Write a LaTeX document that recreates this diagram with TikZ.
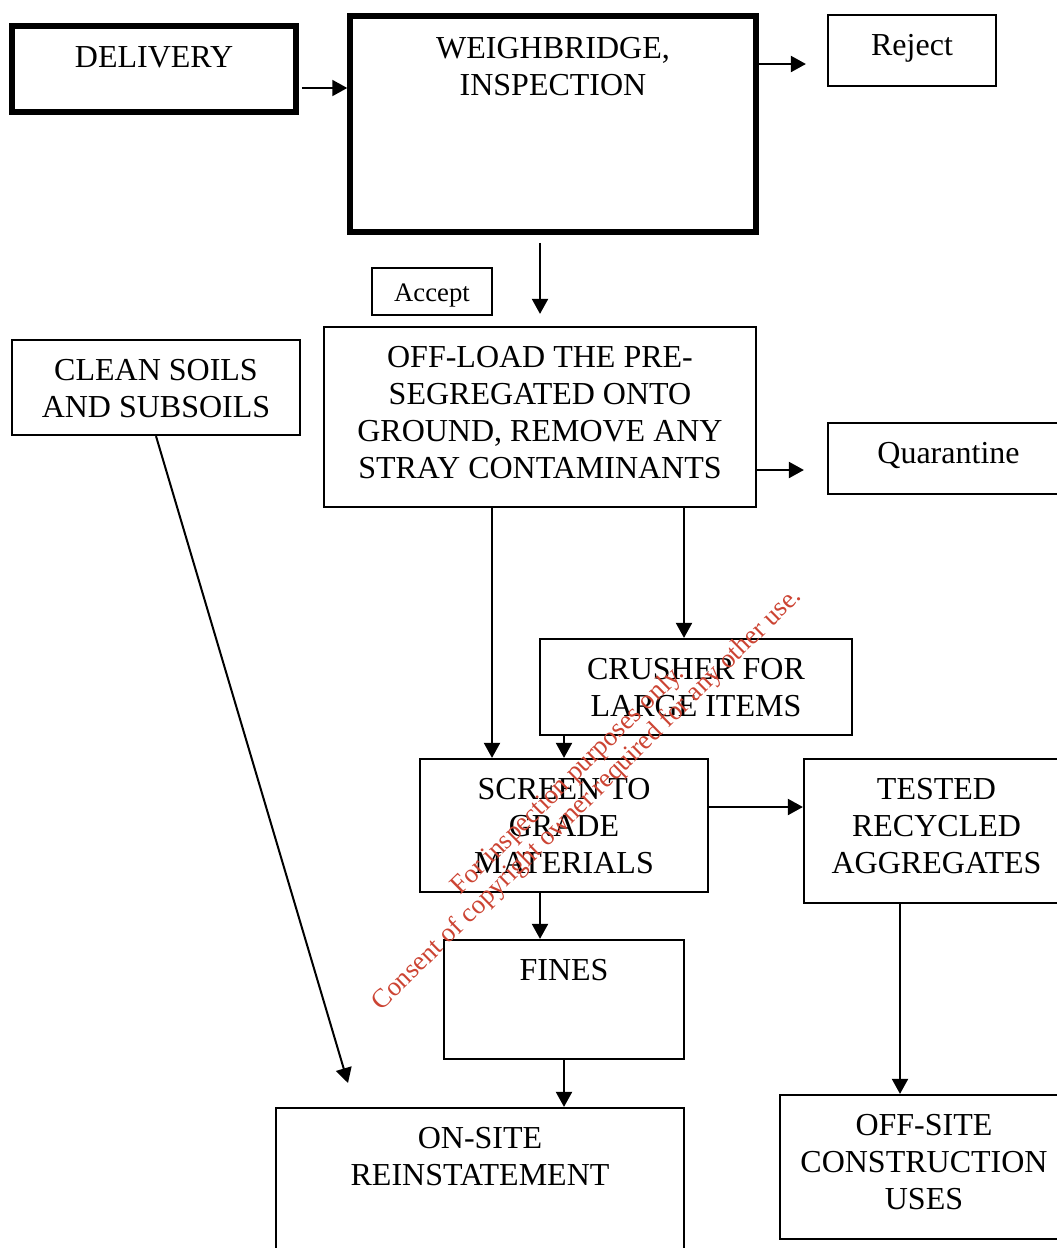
\documentclass[tikz,border=0pt]{standalone}
\usepackage{fontspec}
\setmainfont{Liberation Serif}
\usetikzlibrary{arrows.meta}
\definecolor{stampred}{RGB}{204,68,51}
\tikzset{
  box/.style={draw, line width=2.2pt, inner sep=0pt},
  bigbox/.style={draw, line width=5.5pt, inner sep=0pt},
  boxtext/.style={anchor=north, align=center, inner sep=0pt, yshift=-20.5pt},
  bigtext/.style={boxtext, yshift=-3pt},
  arr/.style={line width=2pt, -{Triangle[length=15pt,width=16pt]}}
}
\begin{document}
\begin{tikzpicture}[x=1pt, y=-1pt, font=\fontsize{32}{37}\selectfont]
\useasboundingbox (0,0) rectangle (1057,1248);
\clip (0,0) rectangle (1057,1248);
% top row
\node[bigbox, minimum width=284pt, minimum height=86pt, label={[bigtext]north:DELIVERY}] (del) at (154,69) {};
\node[bigbox, minimum width=406pt, minimum height=216pt, label={[bigtext]north:WEIGHBRIDGE,\\INSPECTION}] (wb) at (553,124) {};
\node[box, minimum width=168pt, minimum height=71pt, label={[boxtext]north:Reject}] (reject) at (912,50.5) {};
\node[box, minimum width=120pt, minimum height=47pt, label={[boxtext, yshift=3.5pt, font=\fontsize{26.7}{31}\selectfont]north:Accept}] (accept) at (432,291.5) {};
% middle
\node[box, minimum width=288pt, minimum height=95pt, label={[boxtext]north:CLEAN SOILS\\AND SUBSOILS}] (clean) at (156,387.5) {};
\node[box, minimum width=432pt, minimum height=180pt, label={[boxtext]north:OFF-LOAD THE PRE-\\SEGREGATED ONTO\\GROUND, REMOVE ANY\\STRAY CONTAMINANTS}] (offload) at (540,417) {};
\node[box, minimum width=241pt, minimum height=71pt, label={[boxtext]north:Quarantine}] (quar) at (948.5,458.5) {};
\node[box, minimum width=312pt, minimum height=96pt, label={[boxtext]north:CRUSHER FOR\\LARGE ITEMS}] (crusher) at (696,687) {};
\node[box, minimum width=288pt, minimum height=133pt, label={[boxtext]north:SCREEN TO\\GRADE\\MATERIALS}] (screen) at (564,825.5) {};
\node[box, minimum width=265pt, minimum height=144pt, label={[boxtext]north:TESTED\\RECYCLED\\AGGREGATES}] (tested) at (936.5,831) {};
% bottom
\node[box, minimum width=240pt, minimum height=119pt, label={[boxtext]north:FINES}] (fines) at (564,999.5) {};
\node[box, minimum width=408pt, minimum height=152pt, label={[boxtext]north:ON-SITE\\REINSTATEMENT}] (onsite) at (480,1184) {};
\node[box, minimum width=288pt, minimum height=144pt, label={[boxtext]north:OFF-SITE\\CONSTRUCTION\\USES}] (offsite) at (924,1167) {};
\coordinate (soilend) at (348,1083);

% arrows
\draw[arr, shorten <=3pt] ([yshift=-19pt]del.east) -- ([yshift=-19pt]del.east -| wb.west);
\draw[arr, shorten >=21pt] ([yshift=60pt]wb.east) -- ([yshift=60pt]wb.east -| reject.west);
\draw[arr, shorten <=8pt, shorten >=12pt] (offload.north |- wb.south) -- (offload.north);
\draw[arr, shorten >=23pt] ([yshift=-53pt]offload.east) -- ([yshift=-53pt]offload.east -| quar.west);
\draw[arr] ([xshift=-48pt]offload.south) -- ([xshift=-48pt]offload.south |- screen.north);
\draw[arr] ([xshift=144pt]offload.south) -- ([xshift=144pt]offload.south |- crusher.north);
\draw[arr] (screen.north |- crusher.south) -- (screen.north);
\draw[arr] ([yshift=18.5pt]screen.east) -- ([yshift=18.5pt]screen.east -| tested.west);
\draw[arr] ([xshift=-24pt]screen.south) -- ([xshift=-24pt]screen.south |- fines.north);
\draw[arr] (fines.south) -- (fines.south |- onsite.north);
\draw[arr] ([xshift=-36.5pt]tested.south) -- ([xshift=-36.5pt]tested.south |- offsite.north);
\draw[arr] (clean.south) -- (soilend);

% watermark
\node[text=stampred, rotate=44.5, align=center, inner sep=0pt, font=\fontsize{26.8}{27}\selectfont] (wmark) at (578,790)
  {For inspection purposes only.\\Consent of copyright owner required for any other use.};
\end{tikzpicture}
\end{document}
